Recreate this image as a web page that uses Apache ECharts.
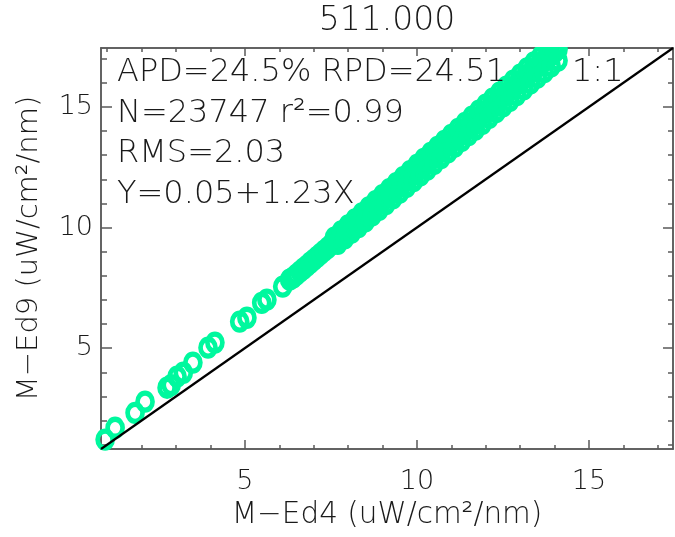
<!DOCTYPE html>
<html>
<head>
<meta charset="utf-8">
<script src="https://cdn.jsdelivr.net/npm/echarts@6/dist/echarts.min.js"></script>
<style>html,body{margin:0;padding:0;background:#fff}#c{width:675px;height:537px}</style>
</head>
<body>
<div id="c"></div>
<script>
// ---- data ----
var axisMin = 0.82, axisMax = 17.44;
var majorTicks = [5, 10, 15];
var minorTicks = [1, 2, 3, 4, 6, 7, 8, 9, 11, 12, 13, 14, 16, 17];
var titleText = '511.000';
var xName = 'M\u2212Ed4 (uW/cm\u00b2/nm)';
var yName = 'M\u2212Ed9 (uW/cm\u00b2/nm)';
var statsLines = ['APD=24.5% RPD=24.51', 'N=23747 r\u00b2=0.99', 'RMS=2.03', 'Y=0.05+1.23X'];
var oneToOneLabel = '1:1';

// sparse low-end points (x, y)
var sparseX = [0.94, 1.23, 1.81, 2.10, 2.74, 2.86, 3.03, 3.21, 3.49, 3.93, 4.13, 4.85, 5.06, 5.49, 5.64, 6.10, 6.30];
var sparseY = [1.21, 1.70, 2.32, 2.78, 3.36, 3.47, 3.82, 3.98, 4.40, 5.02, 5.23, 6.10, 6.26, 6.88, 7.01, 7.55, 7.84];

// dense band, central ridge
var bandX = [6.4,6.5,6.6,6.7,6.8,6.9,7.0,7.1,7.2,7.3,7.4,7.5,7.6,7.7,7.8,7.9,8.0,8.1,8.2,8.3,8.4,8.5,8.6,8.7,8.8,8.9,9.0,9.1,9.2,9.3,9.4,9.5,9.6,9.7,9.8,9.9,10.0,10.1,10.2,10.3,10.4,10.5,10.6,10.7,10.8,10.9,11.0,11.1,11.2,11.3,11.4,11.5,11.6,11.7,11.8,11.9,12.0,12.1,12.2,12.3,12.4,12.5,12.6,12.7,12.8,12.9,13.0,13.1,13.2,13.3,13.4,13.5,13.6,13.7,13.8,13.9,14.0,14.1,14.2];
var bandY = [7.92,8.05,8.17,8.29,8.41,8.54,8.66,8.78,8.91,9.03,9.15,9.28,9.40,9.52,9.64,9.77,9.89,10.01,10.14,10.26,10.38,10.51,10.63,10.75,10.87,11.00,11.12,11.24,11.37,11.49,11.61,11.74,11.86,11.98,12.10,12.23,12.35,12.47,12.60,12.72,12.84,12.97,13.09,13.21,13.33,13.46,13.58,13.70,13.83,13.95,14.07,14.20,14.32,14.44,14.56,14.69,14.81,14.93,15.06,15.18,15.30,15.43,15.55,15.67,15.79,15.92,16.04,16.16,16.29,16.41,16.53,16.66,16.78,16.90,17.02,17.15,17.27,17.39,17.52];

// upper edge of band
var upperX = [7.6,7.8,8.0,8.2,8.4,8.6,8.8,9.0,9.2,9.4,9.6,9.8,10.0,10.2,10.4,10.6,10.8,11.0,11.2,11.4,11.6,11.8,12.0,12.2,12.4,12.6,12.8,13.0,13.2,13.4,13.6,13.8,14.0];
var upperY = [9.58,9.84,10.09,10.34,10.58,10.83,11.09,11.34,11.59,11.84,12.09,12.34,12.59,12.84,13.09,13.34,13.59,13.84,14.09,14.34,14.59,14.84,15.09,15.34,15.59,15.84,16.09,16.34,16.59,16.84,17.09,17.34,17.59];

// lower edge of band
var lowerX = [7.7,7.9,8.1,8.3,8.5,8.7,8.9,9.1,9.3,9.5,9.7,9.9,10.1,10.3,10.5,10.7,10.9,11.1,11.3,11.5,11.7,11.9,12.1,12.3,12.5,12.7,12.9,13.1,13.3,13.5,13.7,13.9,14.1];
var lowerY = [9.32,9.55,9.79,10.02,10.26,10.50,10.73,10.97,11.21,11.45,11.69,11.92,12.16,12.40,12.64,12.88,13.11,13.35,13.59,13.83,14.06,14.30,14.54,14.78,15.02,15.25,15.49,15.73,15.97,16.21,16.44,16.68,16.92];

// ---- build ----
function zip(a, b) { var r = []; for (var i = 0; i < a.length; i++) r.push([a[i], b[i]]); return r; }
var pts = zip(sparseX, sparseY).concat(zip(bandX, bandY), zip(upperX, upperY), zip(lowerX, lowerY));

var FONT = "'DejaVu Sans'";
var TXT = '#1a1a1a';
var AX = '#5a5a5a';
var GREEN = '#00f89e';
var W = 300;

function mkAxis(pos, ticks, len, labels, extra) {
  var a = {
    type: 'value', min: axisMin, max: axisMax, position: pos,
    axisLine: { show: true, onZero: false, lineStyle: { color: AX, width: 1.5 } },
    axisTick: { show: true, inside: true, length: len, customValues: ticks, lineStyle: { color: AX, width: 1.5 } },
    axisLabel: labels ? { show: true, customValues: majorTicks, color: TXT, fontFamily: FONT, fontWeight: W, fontSize: 27 } : { show: false },
    splitLine: { show: false }
  };
  for (var k in extra) a[k] = extra[k];
  return a;
}

var chart = echarts.init(document.getElementById('c'), null, { renderer: 'canvas' });
var xAxes = [
  mkAxis('bottom', majorTicks, 9, true, {
    name: xName, nameLocation: 'middle', nameGap: 51,
    nameTextStyle: { color: TXT, fontFamily: FONT, fontWeight: W, fontSize: 29.5 }
  }),
  mkAxis('bottom', minorTicks, 4, false, {}),
  mkAxis('top', majorTicks, 8, false, {}),
  mkAxis('top', minorTicks, 4, false, {})
];
xAxes[0].axisLabel.margin = 19;
var yAxes = [
  mkAxis('left', majorTicks, 11, true, {
    name: yName, nameLocation: 'middle', nameGap: 57,
    nameTextStyle: { color: TXT, fontFamily: FONT, fontWeight: W, fontSize: 29 }
  }),
  mkAxis('left', minorTicks, 6, false, {}),
  mkAxis('right', majorTicks, 10, false, {}),
  mkAxis('right', minorTicks, 5, false, {})
];
yAxes[0].axisLabel.margin = 8;

var textEls = [
  // white mask above the plot frame (symbols are not clipped by ECharts)
  { type: 'rect', z: 50, shape: { x: 0, y: 0, width: 675, height: 47 }, style: { fill: '#fff' } },
  { type: 'text', z: 60, x: 387, y: 5,
    style: { text: titleText, fill: TXT, font: W + ' 33px ' + FONT, textAlign: 'center' } }
];
for (var i = 0; i < statsLines.length; i++) {
  textEls.push({ type: 'text', z: 60, x: 117, y: 57 + i * 40.5,
    style: { text: statsLines[i], fill: TXT, font: W + ' 32px ' + FONT } });
}
textEls.push({ type: 'text', z: 60, x: 572, y: 57, style: { text: oneToOneLabel, fill: TXT, font: W + ' 32px ' + FONT } });

chart.setOption({
  animation: false,
  backgroundColor: '#fff',
  grid: { left: 101, right: 2, top: 48, bottom: 88, containLabel: false },
  xAxis: xAxes,
  yAxis: yAxes,
  graphic: textEls,
  series: [
    {
      type: 'scatter', xAxisIndex: 0, yAxisIndex: 0,
      data: pts, symbol: 'circle', symbolSize: [15, 17],
      itemStyle: { color: 'rgba(0,0,0,0)', borderColor: GREEN, borderWidth: 5, opacity: 1 },
      z: 2
    },
    {
      type: 'line', xAxisIndex: 0, yAxisIndex: 0,
      data: [[axisMin, axisMin], [axisMax, axisMax]],
      symbol: 'none', lineStyle: { color: '#000', width: 2.2 }, z: 3
    }
  ]
});
</script>
</body>
</html>
